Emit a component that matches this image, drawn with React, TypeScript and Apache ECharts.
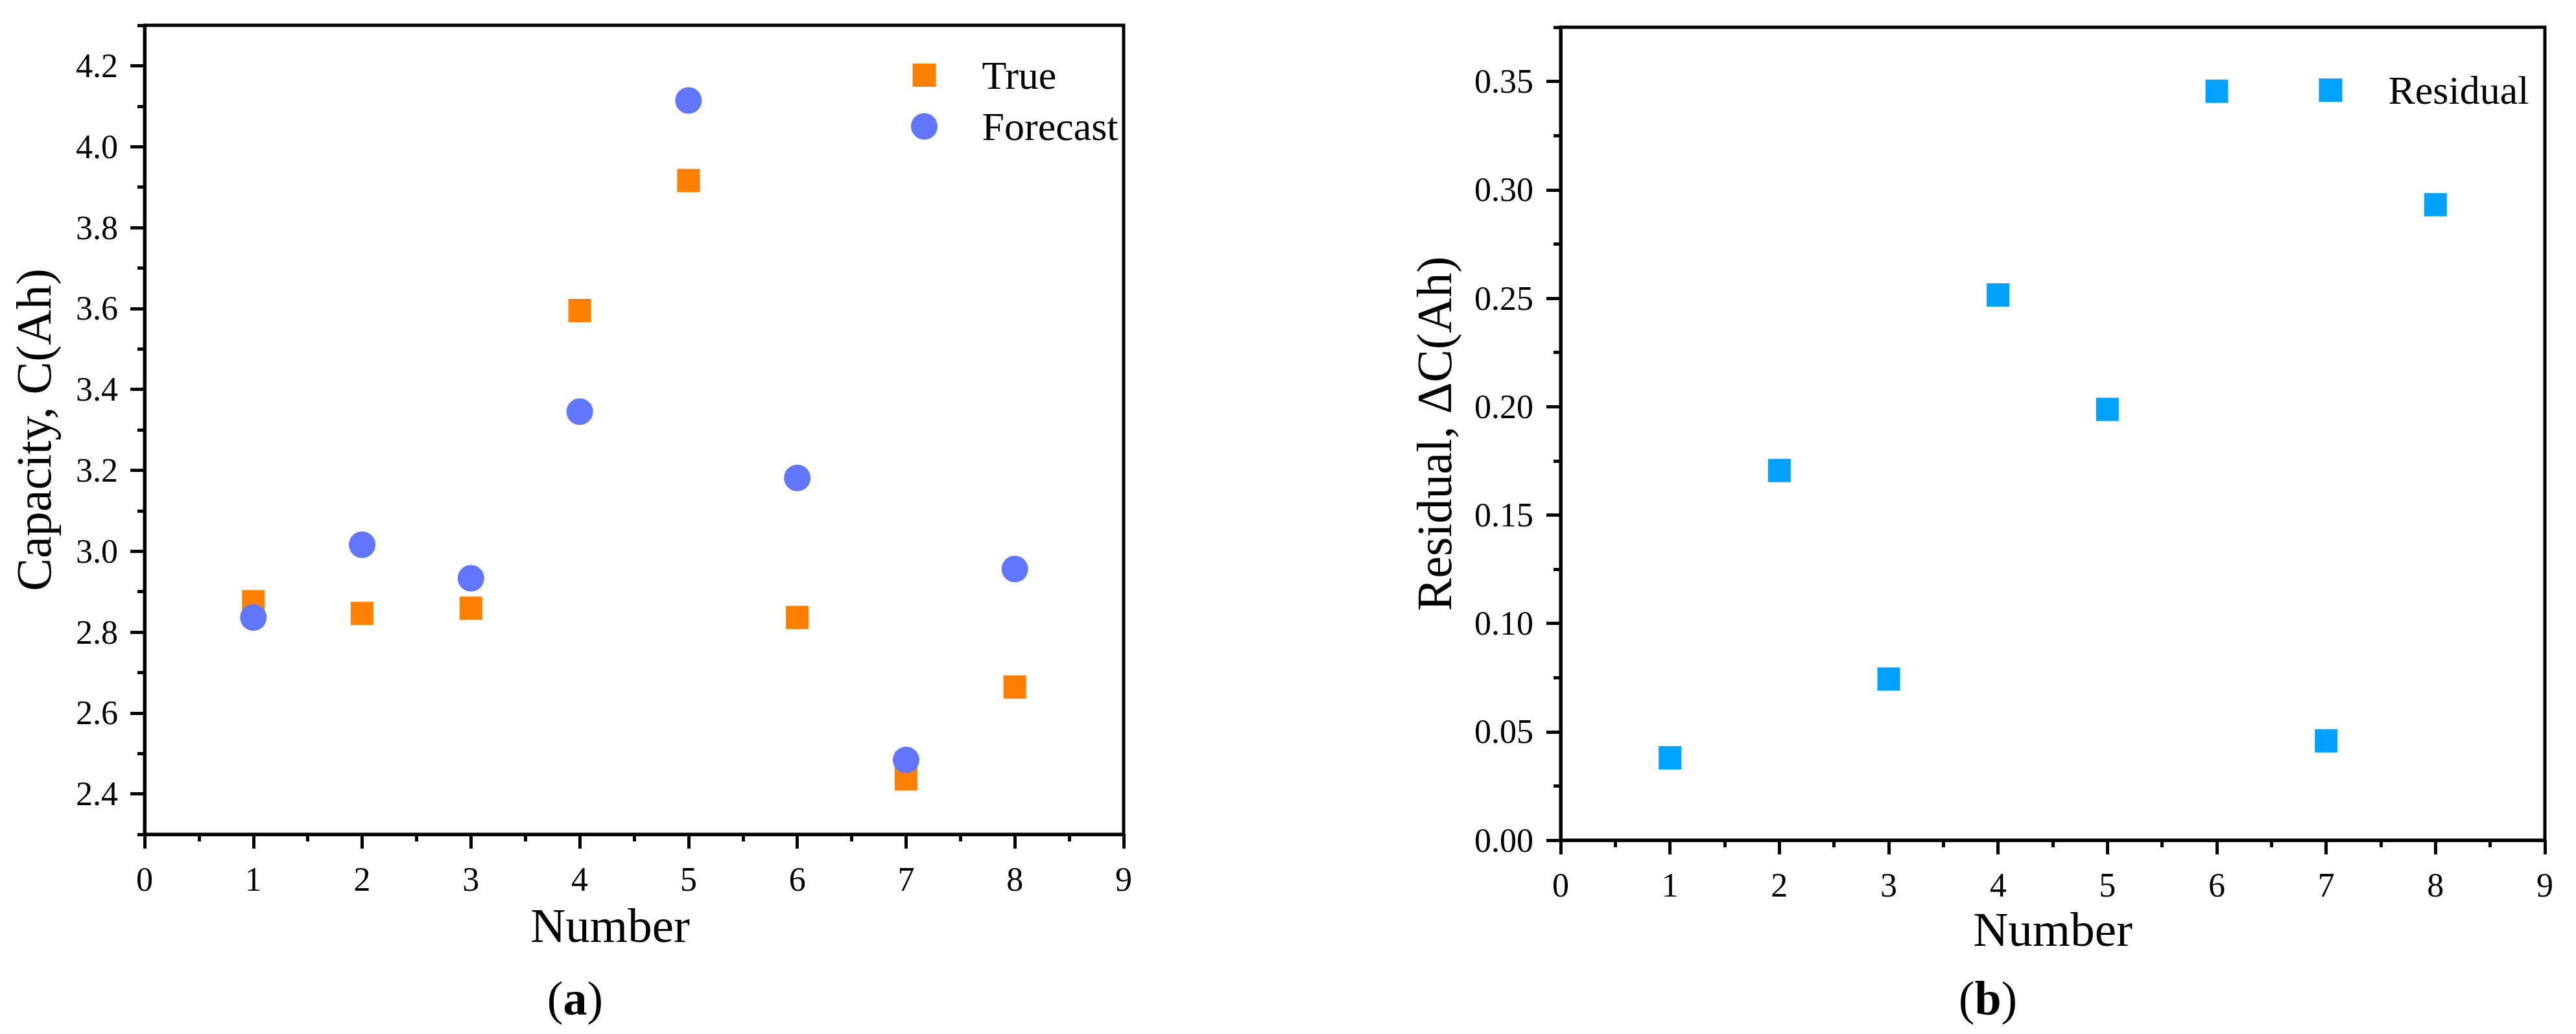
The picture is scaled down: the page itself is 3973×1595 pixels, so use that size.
import React, { useEffect, useRef } from "react";
import * as echarts from "echarts";

const numbers = [1, 2, 3, 4, 5, 6, 7, 8];
const trueCapacity = [2.875, 2.846, 2.859, 3.595, 3.916, 2.836, 2.437, 2.664];
const forecastCapacity = [2.836, 3.016, 2.933, 3.345, 4.114, 3.181, 2.484, 2.956];
const residual = [0.038, 0.1705, 0.0743, 0.2515, 0.1987, 0.3455, 0.0458, 0.2931];

const capacityTicks = [2.4, 2.6, 2.8, 3.0, 3.2, 3.4, 3.6, 3.8, 4.0, 4.2];
const residualTicks = [0, 0.05, 0.1, 0.15, 0.2, 0.25, 0.3, 0.35];

const SERIF = "'Liberation Serif', 'Times New Roman', serif";
const BLACK = "#000";
// square legend icon padded inside its box so it keeps its own size
const SQUARE_ICON = "path://M-0.7,-0.7M10.7,10.7M0,0H10V10H0Z";

function xAxisCfg(gridIndex: number, nameGap: number, namePad: number[]) {
  return {
    type: "value",
    gridIndex,
    min: 0,
    max: 9,
    interval: 1,
    name: "Number",
    nameLocation: "middle",
    nameGap,
    nameTextStyle: { fontFamily: SERIF, fontSize: 75, color: BLACK, padding: namePad },
    axisLine: { show: true, lineStyle: { color: BLACK, width: 5 } },
    axisTick: { show: true, length: 22, lineStyle: { color: BLACK, width: 5 } },
    minorTick: { show: true, splitNumber: 2, length: 11, lineStyle: { color: BLACK, width: 5 } },
    splitLine: { show: false },
    axisLabel: { fontFamily: SERIF, fontSize: 52, color: BLACK, margin: 43 },
  };
}

export default function App() {
  const ref = useRef<HTMLDivElement>(null);
  useEffect(() => {
    if (!ref.current) return;
    const chart = echarts.init(ref.current, null, { renderer: "svg" });
    const option = {
      animation: false,
      backgroundColor: "#fff",
      grid: [
        { left: 223, top: 39, width: 1510, height: 1248, show: true, borderColor: BLACK, borderWidth: 5, backgroundColor: "transparent" },
        { left: 2407, top: 42, width: 1518, height: 1254, show: true, borderColor: BLACK, borderWidth: 5, backgroundColor: "transparent" },
      ],
      legend: [
        {
          data: [{ name: "True", icon: SQUARE_ICON }, { name: "Forecast", icon: "circle" }],
          orient: "vertical",
          left: 1400,
          top: 80,
          itemWidth: 168,
          itemHeight: 41,
          itemGap: 17,
          textStyle: { fontFamily: SERIF, fontSize: 62, color: BLACK },
        },
        {
          data: [{ name: "Residual", icon: SQUARE_ICON }],
          orient: "vertical",
          left: 3569,
          top: 103,
          itemWidth: 168,
          itemHeight: 41,
          textStyle: { fontFamily: SERIF, fontSize: 62, color: BLACK },
        },
      ],
      xAxis: [xAxisCfg(0, 103, [0, 74, 0, 0]), xAxisCfg(1, 92, [0, 0, 0, 0])],
      yAxis: [
        {
          type: "value",
          gridIndex: 0,
          min: 2.3,
          max: 4.3,
          interval: 0.1,
          position: "left",
          name: "Capacity, C(Ah)",
          nameLocation: "middle",
          nameGap: 133,
          nameRotate: 90,
          nameTextStyle: { fontFamily: SERIF, fontSize: 76, color: BLACK },
          axisLine: { show: true, lineStyle: { color: BLACK, width: 5 } },
          axisTick: { show: true, length: 22, customValues: capacityTicks, lineStyle: { color: BLACK, width: 5 } },
          axisLabel: {
            fontFamily: SERIF,
            fontSize: 52,
            color: BLACK,
            margin: 41,
            customValues: capacityTicks,
            formatter: (v: number) => v.toFixed(1),
          },
          splitLine: { show: false },
        },
        {
          type: "value",
          gridIndex: 0,
          min: 2.3,
          max: 4.3,
          interval: 0.1,
          position: "left",
          offset: 0,
          axisLine: { show: false },
          axisTick: { show: true, length: 11, lineStyle: { color: BLACK, width: 5 } },
          axisLabel: { show: false },
          splitLine: { show: false },
        },
        {
          type: "value",
          gridIndex: 1,
          min: 0,
          max: 0.375,
          interval: 0.025,
          position: "left",
          name: "Residual, ΔC(Ah)",
          nameLocation: "middle",
          nameGap: 157,
          nameRotate: 90,
          nameTextStyle: { fontFamily: SERIF, fontSize: 76, color: BLACK },
          axisLine: { show: true, lineStyle: { color: BLACK, width: 5 } },
          axisTick: { show: true, length: 22, customValues: residualTicks, lineStyle: { color: BLACK, width: 5 } },
          axisLabel: {
            fontFamily: SERIF,
            fontSize: 52,
            color: BLACK,
            margin: 42,
            customValues: residualTicks,
            formatter: (v: number) => v.toFixed(2),
          },
          splitLine: { show: false },
        },
        {
          type: "value",
          gridIndex: 1,
          min: 0,
          max: 0.375,
          interval: 0.025,
          position: "left",
          offset: 0,
          axisLine: { show: false },
          axisTick: { show: true, length: 11, lineStyle: { color: BLACK, width: 5 } },
          axisLabel: { show: false },
          splitLine: { show: false },
        },
      ],
      series: [
        {
          name: "True",
          type: "scatter",
          xAxisIndex: 0,
          yAxisIndex: 0,
          symbol: "rect",
          symbolSize: [35, 36],
          itemStyle: { color: "#FF8000", opacity: 1 },
          data: numbers.map((n, i) => [n, trueCapacity[i]]),
        },
        {
          name: "Forecast",
          type: "scatter",
          xAxisIndex: 0,
          yAxisIndex: 0,
          symbol: "circle",
          symbolSize: 41,
          itemStyle: { color: "#6376FF", opacity: 1 },
          data: numbers.map((n, i) => [n, forecastCapacity[i]]),
        },
        {
          name: "Residual",
          type: "scatter",
          xAxisIndex: 1,
          yAxisIndex: 2,
          symbol: "rect",
          symbolSize: [35, 36],
          itemStyle: { color: "#00A2FF", opacity: 1 },
          data: numbers.map((n, i) => [n, residual[i]]),
        },
      ],
      graphic: [
        {
          type: "text",
          x: 887,
          y: 1540,
          style: {
            text: "({b|a})",
            fontFamily: SERIF,
            fontSize: 74,
            fill: BLACK,
            align: "center",
            verticalAlign: "middle",
            rich: { b: { fontFamily: SERIF, fontSize: 74, fontWeight: "bold", fill: BLACK } },
          },
        },
        {
          type: "text",
          x: 3066,
          y: 1540,
          style: {
            text: "({b|b})",
            fontFamily: SERIF,
            fontSize: 74,
            fill: BLACK,
            align: "center",
            verticalAlign: "middle",
            rich: { b: { fontFamily: SERIF, fontSize: 74, fontWeight: "bold", fill: BLACK } },
          },
        },
      ],
    };
    chart.setOption(option as any);
    return () => chart.dispose();
  }, []);
  return (
    <div
      ref={ref}
      style={{ position: "absolute", left: 0, top: 0, width: 3973, height: 1595, background: "#fff" }}
    />
  );
}
